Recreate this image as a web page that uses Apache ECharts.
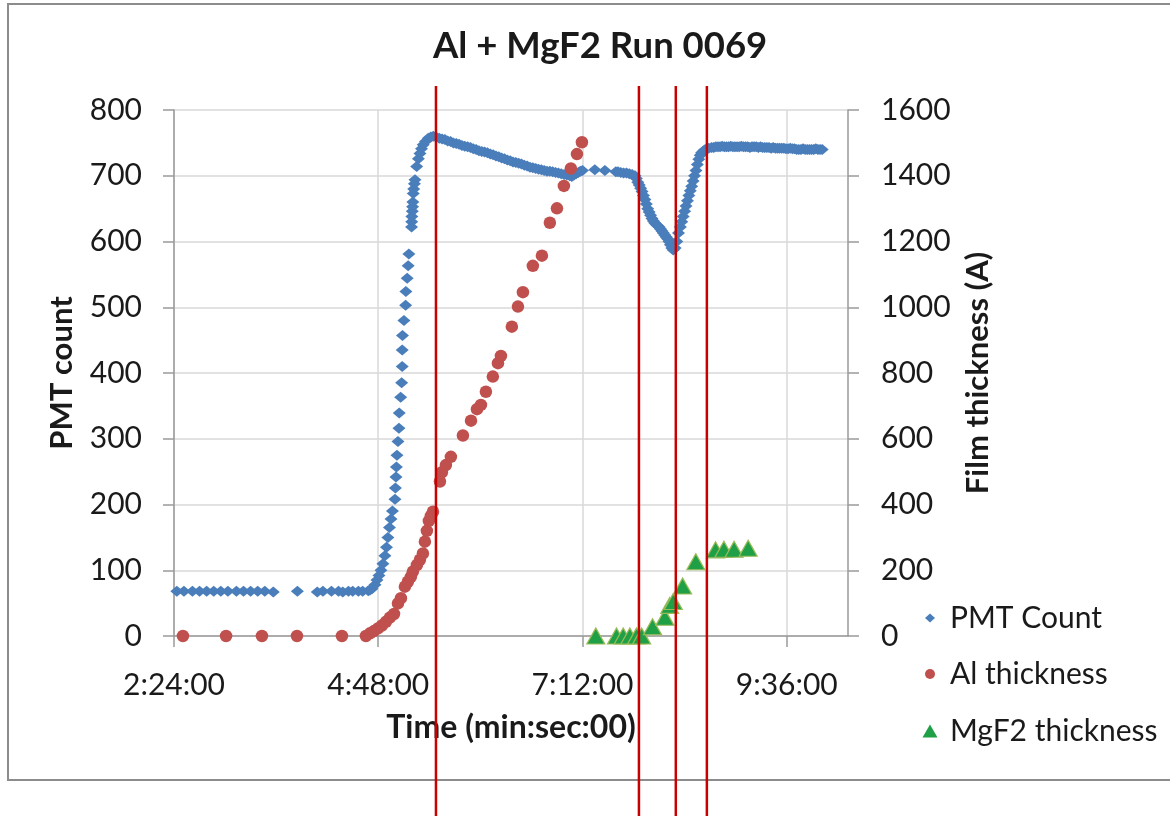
<!DOCTYPE html>
<html>
<head>
<meta charset="utf-8">
<script src="https://cdn.jsdelivr.net/npm/echarts@6/dist/echarts.min.js"></script>
<style>
html, body { margin: 0; padding: 0; background: #fff; }
#chart { width: 1170px; height: 816px; }
</style>
</head>
<body>
<div id="chart"></div>
<script>
// Elapsed run time is kept in seconds; the axis prints it as m:ss:00.
const timeTicks = [144, 288, 432, 576];
const pmtTicks = [0, 100, 200, 300, 400, 500, 600, 700, 800];
const filmTicks = [0, 200, 400, 600, 800, 1000, 1200, 1400, 1600];

// PMT count readings
const pmtTime = [
  146, 151, 157, 162, 167, 172, 177, 182, 188, 193, 198, 203, 208, 214,
  231, 245, 249, 255, 260, 263, 267, 270, 274, 277, 281,
  282.2, 283.6, 285.7, 287.1, 288.5, 289.9, 291.3, 292.7, 293.8, 294.8, 295.9, 297.0, 298.0,
  299.8, 300.1, 300.5, 300.8, 301.2, 301.9, 302.6, 302.8, 303.8, 304.5, 304.9, 304.9, 305.1,
  306.1, 307.3, 307.5, 308.4, 309.1, 309.6,
  311.5, 311.6, 311.7, 312.0, 312.2, 312.4, 312.7, 313.0, 313.5, 313.9, 315.1, 316.3, 317.4,
  318.5, 319.7, 321.3, 323.3, 325.1, 326.8, 328.7,
  331, 333, 335, 337, 339, 341, 343, 345, 347, 349, 351, 353, 355, 357, 359, 361, 363, 365,
  367, 369, 371, 373, 375, 377, 379, 381, 383, 385, 387, 389, 391, 393, 395, 397, 399, 401,
  403, 405, 407, 409, 411, 413, 415, 417, 419, 421, 423, 424.5, 426, 427.5, 429, 430.5, 432,
  440.7, 447.8, 455.5, 457, 459, 461, 463, 465, 467,
  469, 470, 471, 472, 473, 474, 475, 476, 477, 478, 479, 480, 481, 482, 483, 484, 485, 486,
  487, 488, 489, 490, 491, 492, 493, 494, 495, 496, 497.3, 498.5, 499.7, 501, 502, 503, 504,
  505, 506, 507, 508, 509, 510, 511, 512, 513, 514, 515, 516, 517, 518, 519.5, 521, 523,
  524.5, 526, 527.5, 529, 530.5, 532, 533.5, 535, 536.5, 538, 539.5, 541, 542.5, 544, 545.5,
  547, 548.5, 550, 551.5, 553, 554.5, 556, 557.5, 559, 560.5, 562, 563.5, 565, 566.5, 568,
  569.5, 571, 572.5, 574, 575.5, 577, 578.5, 580, 581.5, 583, 584.5, 586, 587.5, 589, 590.5,
  592, 593.5, 595, 596.5, 598, 599.5, 601
];
const pmtCount = [
  68, 68, 68, 68, 68, 68, 68, 68, 68, 68, 68, 68, 68, 67,
  68, 67, 68, 68, 68, 67, 68, 68, 68, 68, 69,
  70, 72, 78, 85, 92, 100, 110, 122, 135, 150, 165, 178, 190,
  208, 225, 242, 257, 275, 296, 316, 339, 363, 385, 410, 435, 457,
  480, 503, 524, 544, 563, 581,
  622, 630, 638, 646, 653, 660, 673, 680, 688, 694, 714, 726, 734,
  741, 747, 752, 757, 759, 760, 759,
  757, 756, 755, 753, 752, 750, 749, 748, 746, 745, 744, 743, 741, 740, 738, 737, 736, 735,
  733, 732, 730, 729, 727, 726, 724, 723, 721, 720, 719, 718, 716, 715, 713, 712, 711, 710,
  709, 708, 707, 707, 706, 705, 704, 703, 702, 701, 700, 699, 701, 703, 705, 707, 708,
  709, 708, 706, 706, 705, 704, 704, 703, 702,
  700, 696, 690, 686, 681, 676, 670, 664, 657, 650, 645, 640, 635, 631, 628, 626, 624, 622,
  619, 616, 613, 610, 607, 604, 600, 595, 590, 587, 590, 600, 613, 622, 630, 638, 646,
  654, 662, 670, 677, 684, 692, 700, 708, 717, 725, 731, 735, 737, 739, 741, 742, 743,
  743, 744, 744, 744, 745, 744, 744, 744, 745, 744, 744, 744, 744, 745, 744,
  744, 744, 743, 744, 744, 744, 743, 744, 743, 743, 743, 743, 742, 743, 742,
  742, 742, 742, 742, 741, 741, 742, 741, 741, 740, 740, 740, 741, 740, 740,
  740, 740, 740, 741, 740, 740, 740
];

// Aluminium film thickness (A)
const alTime = [
  150.3, 180.7, 206.0, 230.7, 262.4, 279.3, 282.2, 285.0, 287.8, 290.6, 293.4, 296.2,
  299.1, 301.9, 304.0, 306.8, 308.9, 311.0, 312.4, 315.3, 317.4, 319.5, 320.9, 322.3,
  323.7, 325.1, 326.6, 331.5, 332.9, 335.7, 339.2, 347.7, 353.4, 357.6, 360.4, 363.9,
  368.8, 372.4, 374.5, 382.2, 386.5, 390.0, 397.0, 403.4, 409.0, 414.0, 418.9, 423.8,
  428.1, 431.6
];
const alThickness = [
  0, 0, 0, 0, 0, 0, 8, 15, 23, 32, 43, 56,
  67, 99, 115, 150, 165, 180, 196, 216, 232, 251, 287, 320,
  350, 365, 378, 470, 498, 520, 545, 610, 655, 690, 703, 743,
  789, 830, 852, 941, 1002, 1046, 1126, 1157, 1257, 1301, 1369, 1422,
  1466, 1502
];

// MgF2 film thickness (A)
const mgf2Time = [441.4, 456.0, 460.7, 465.4, 470.1, 473.7, 481.4, 490.1, 493.5, 496.0, 502.6, 511.9, 525.8, 531.7, 538.9, 548.8];
const mgf2Thickness = [0, 0, 0, 0, 0, 0, 28, 57, 93, 105, 152, 226, 262, 264, 264, 267];

// Times where the deposition stages change
const stageTimes = [328.7, 471.8, 497.8, 519.7];

const FONT = 'Lato';
const AXIS_GREY = '#9a9a9a';
const GRID_GREY = '#d9d9d9';
const TEXT = '#1a1a1a';

const BLUE = '#4a7ebb';
const RED = '#c0504d';
const GREEN = '#1fa046';
const GREEN_EDGE = '#9bbb59';

function fmtTime(v) {
  const m = Math.floor(v / 60);
  const s = Math.round(v - m * 60);
  return m + ':' + String(s).padStart(2, '0') + ':00';
}

const zip = (xs, ys) => xs.map((x, i) => [x, ys[i]]);

const chart = echarts.init(document.getElementById('chart'), null, { renderer: 'canvas' });

// One legend block per entry so each marker keeps its own size;
// the icon is centred on x = 930 and the label starts at x = 950.
function legendEntry(name, icon, w, h, top, style) {
  return {
    orient: 'vertical',
    left: 930 - w / 2,
    top: top,
    padding: 0,
    itemWidth: w,
    itemHeight: h,
    itemStyle: style,
    textStyle: {
      fontFamily: FONT, fontSize: 30, color: TEXT,
      padding: [0, 0, 0, 15 - w / 2 - 5 + 5]
    },
    data: [{ name: name, icon: icon }]
  };
}

chart.setOption({
  animation: false,
  backgroundColor: '#fff',
  title: {
    text: 'Al + MgF2 Run 0069',
    left: 428,
    top: 23,
    textStyle: { fontFamily: FONT, fontWeight: 'bold', fontSize: 36.5, color: TEXT }
  },
  legend: [
    legendEntry('PMT Count', 'diamond', 10, 9, 603, { color: BLUE }),
    legendEntry('Al thickness', 'circle', 10, 10, 659, { color: RED }),
    legendEntry('MgF2 thickness', 'triangle', 15, 13, 716, { color: GREEN, borderColor: GREEN, borderWidth: 0 })
  ],
  grid: { left: 174, right: 322, top: 110, bottom: 180, containLabel: false },
  xAxis: {
    type: 'value',
    min: 144,
    max: 619.2,
    interval: 144,
    name: 'Time (min:sec:00)',
    nameLocation: 'middle',
    nameGap: 76,
    nameTextStyle: { fontFamily: FONT, fontWeight: 'bold', fontSize: 32, color: TEXT },
    axisLine: { show: true, lineStyle: { color: AXIS_GREY, width: 1.5 } },
    axisTick: { show: true, length: 11, customValues: timeTicks, lineStyle: { color: AXIS_GREY, width: 1.5 } },
    axisLabel: {
      customValues: timeTicks,
      formatter: fmtTime,
      margin: 34,
      fontFamily: FONT, fontSize: 30, color: TEXT
    },
    splitLine: { show: true, lineStyle: { color: GRID_GREY, width: 1.5 } }
  },
  yAxis: [
    {
      type: 'value',
      min: 0, max: 800, interval: 100,
      name: 'PMT count',
      nameLocation: 'middle',
      nameRotate: 90,
      nameGap: 97,
      nameTextStyle: { fontFamily: FONT, fontWeight: 'bold', fontSize: 31, color: TEXT },
      axisLine: { show: true, lineStyle: { color: AXIS_GREY, width: 1.5 } },
      axisTick: { show: true, length: 11, lineStyle: { color: AXIS_GREY, width: 1.5 } },
      axisLabel: {
        customValues: pmtTicks,
        formatter: v => String(v),
        margin: 32, fontFamily: FONT, fontSize: 30, color: TEXT
      },
      splitLine: { show: true, lineStyle: { color: GRID_GREY, width: 1.5 } }
    },
    {
      type: 'value',
      position: 'right',
      min: 0, max: 1600, interval: 200,
      name: 'Film thickness (A)',
      nameLocation: 'middle',
      nameRotate: 90,
      nameGap: 114,
      nameTextStyle: { fontFamily: FONT, fontWeight: 'bold', fontSize: 31, color: TEXT },
      axisLine: { show: true, lineStyle: { color: AXIS_GREY, width: 1.5 } },
      axisTick: { show: true, length: 11, lineStyle: { color: AXIS_GREY, width: 1.5 } },
      axisLabel: {
        customValues: filmTicks,
        formatter: v => String(v),
        margin: 33, fontFamily: FONT, fontSize: 30, color: TEXT
      },
      splitLine: { show: false }
    }
  ],
  series: [
    {
      name: 'PMT Count',
      type: 'scatter',
      yAxisIndex: 0,
      symbol: 'diamond',
      symbolSize: [13, 11],
      itemStyle: { color: BLUE, opacity: 1 },
      data: zip(pmtTime, pmtCount),
      z: 3
    },
    {
      name: 'Al thickness',
      type: 'scatter',
      yAxisIndex: 1,
      symbol: 'circle',
      symbolSize: 12.5,
      itemStyle: { color: RED, opacity: 1 },
      data: zip(alTime, alThickness),
      z: 4
    },
    {
      name: 'MgF2 thickness',
      type: 'scatter',
      yAxisIndex: 1,
      symbol: 'triangle',
      symbolSize: [18, 16],
      itemStyle: { color: GREEN, borderColor: GREEN_EDGE, borderWidth: 1.2, opacity: 1 },
      data: zip(mgf2Time, mgf2Thickness),
      z: 5
    }
  ]
});

// Outer chart frame plus the stage markers, placed through the time axis
const stageLines = stageTimes.map(t => {
  const x = chart.convertToPixel({ xAxisIndex: 0 }, t);
  return {
    type: 'line',
    z: 100,
    shape: { x1: x, y1: 86, x2: x, y2: 816 },
    style: { stroke: '#c80000', lineWidth: 2.5 }
  };
});

chart.setOption({
  graphic: [
    {
      type: 'rect',
      z: -1,
      shape: { x: 8, y: 4, width: 1180, height: 776 },
      style: { fill: 'transparent', stroke: '#8c8c8c', lineWidth: 2 }
    }
  ].concat(stageLines)
});
</script>
</body>
</html>
